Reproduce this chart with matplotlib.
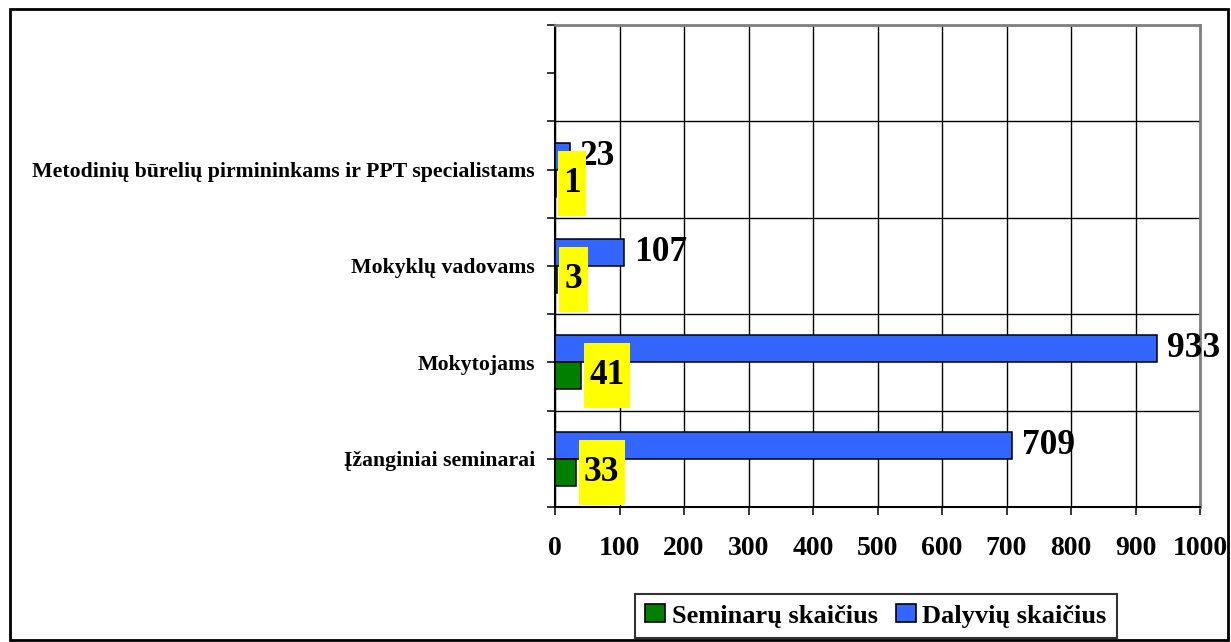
import matplotlib
matplotlib.use("Agg")
import matplotlib.pyplot as plt
from matplotlib.patches import Rectangle, Patch
from matplotlib.path import Path
import numpy as np

# ---- data ----
categories = ["Įžanginiai seminarai", "Mokytojams", "Mokyklų vadovams",
              "Metodinių būrelių pirmininkams ir PPT specialistams", ""]
seminaru_skaicius = [33, 41, 3, 1, None]
dalyviu_skaicius = [709, 933, 107, 23, None]
x_tick_values = [0, 100, 200, 300, 400, 500, 600, 700, 800, 900, 1000]
series_names = ["Seminarų skaičius", "Dalyvių skaičius"]

# ---- style ----
plt.rcParams['font.family'] = ['Liberation Serif', 'DejaVu Serif']
plt.rcParams['font.weight'] = 'bold'
GREEN = '#007F00'
BLUE = '#3366FF'
YELLOW = '#FFFF00'

W, H = 1231, 642
fig = plt.figure(figsize=(W / 100, H / 100), dpi=100)
ax = fig.add_axes([555 / W, 1 - 507 / H, (1200 - 555) / W, (507 - 25) / H])

ypos = np.arange(len(categories))
bar_h = 0.28

idx_s = [i for i, v in enumerate(seminaru_skaicius) if v is not None]
idx_d = [i for i, v in enumerate(dalyviu_skaicius) if v is not None]
vals_s = [seminaru_skaicius[i] for i in idx_s]
vals_d = [dalyviu_skaicius[i] for i in idx_d]

bars_d = ax.barh(ypos[idx_d] + bar_h / 2, vals_d, height=bar_h, color=BLUE,
                 edgecolor='black', linewidth=1.1, zorder=3)
bars_s = ax.barh(ypos[idx_s] - bar_h / 2, vals_s, height=bar_h, color=GREEN,
                 edgecolor='black', linewidth=1.1, zorder=3)


def yellow_box(x0, y0, width, height, mutation_size):
    px = 0.15 * mutation_size
    py = 0.45 * mutation_size
    x0, y0 = x0 - px, y0 - py
    x1, y1 = x0 + width + 2 * px, y0 + height + 2 * py
    return Path([(x0, y0), (x1, y0), (x1, y1), (x0, y1), (x0, y0)], closed=True)


for b, v in zip(bars_d, vals_d):
    ax.annotate(str(v), xy=(b.get_width(), b.get_y() + b.get_height() / 2),
                xytext=(7, 0), textcoords='offset points', ha='left', va='center',
                fontsize=25.5, fontweight='bold', color='black', zorder=5,
                annotation_clip=False)

for b, v in zip(bars_s, vals_s):
    ax.annotate(str(v), xy=(b.get_width(), b.get_y() + b.get_height() / 2),
                xytext=(5.5, 0), textcoords='offset points', ha='left', va='center',
                fontsize=25.5, fontweight='bold', color='black', zorder=6,
                bbox=dict(boxstyle=yellow_box, facecolor=YELLOW, edgecolor='none'),
                annotation_clip=False)

# ---- axes ----
ax.set_xlim(0, 1000)
ax.set_ylim(-0.5, len(categories) - 0.5)
ax.set_xticks(x_tick_values)
ax.set_xticklabels([str(v) for v in x_tick_values], fontsize=20, fontweight='bold')
ax.set_yticks(ypos)
ax.set_yticklabels(categories, fontsize=15.7, fontweight='bold')
ax.set_yticks(np.arange(len(categories) + 1) - 0.5, minor=True)

ax.tick_params(axis='x', direction='out', length=6, width=1.1, pad=15, color='black')
ax.tick_params(axis='y', which='both', direction='out', length=6, width=1.1, pad=8.5)

ax.grid(axis='x', which='major', color='black', linewidth=1.0, zorder=0)
ax.grid(axis='y', which='minor', color='black', linewidth=1.0, zorder=0)
ax.set_axisbelow(True)

for side in ['left', 'bottom']:
    ax.spines[side].set_color('black')
    ax.spines[side].set_linewidth(1.5)
for side in ['top', 'right']:
    ax.spines[side].set_color('#808080')
    ax.spines[side].set_linewidth(2)

# ---- legend ----
handles = [Patch(facecolor=GREEN, edgecolor='black', linewidth=1.2, label=series_names[0]),
           Patch(facecolor=BLUE, edgecolor='black', linewidth=1.2, label=series_names[1])]
leg = fig.legend(handles=handles, loc='center', bbox_to_anchor=(876 / W, 1 - 616 / H),
                 ncol=2, fontsize=19, frameon=True, fancybox=False,
                 handlelength=0.75, handleheight=0.65, handletextpad=0.25,
                 columnspacing=0.7, borderpad=0.4, borderaxespad=0)
leg.get_frame().set_edgecolor('black')
leg.get_frame().set_linewidth(1.5)
for t in leg.get_texts():
    t.set_fontweight('bold')

# ---- outer chart border ----
fig.patches.append(Rectangle((10 / W, 2 / H), (1228 - 10) / W, (640 - 9) / H,
                             transform=fig.transFigure, fill=False,
                             edgecolor='black', linewidth=2))

fig.savefig('out.png', dpi=100)
